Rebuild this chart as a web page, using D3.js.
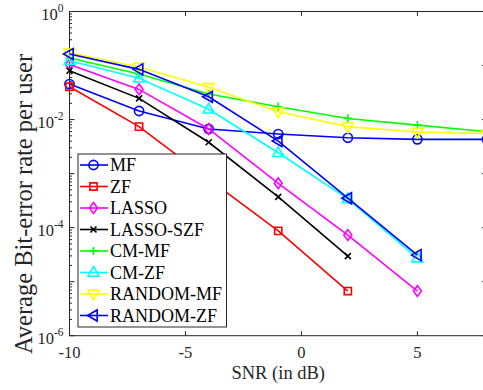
<!DOCTYPE html>
<html>
<head>
<meta charset="utf-8">
<script src="https://cdn.jsdelivr.net/npm/d3@7"></script>
<style>
  body { margin: 0; background: #fff; }
  svg { display: block; font-family: "Liberation Serif", "Times New Roman", serif; }
</style>
</head>
<body>
<div id="chart"></div>
<script>
// SNR points (dB)
const snr = [-10, -7, -4, -1, 2, 5, 8];

// bit-error rate per series, null where not simulated
const mf       = [0.0454, 0.0144, 0.0067, 0.0054, 0.0046, 0.0043, 0.0043];
const zf       = [0.0405, 0.0074, 0.00079, 0.000087, 0.0000067, null, null];
const lasso    = [0.105, 0.0362, 0.0067, 0.00066, 0.000073, 0.0000067, null];
const lassoSzf = [0.080, 0.0247, 0.0038, 0.00037, 0.0000297, null, null];
const cmMf     = [0.138, 0.0696, 0.0297, 0.0173, 0.0105, 0.0079, 0.0060];
const cmZf     = [0.123, 0.058, 0.0155, 0.00243, 0.00034, 0.0000272, null];
const randMf   = [0.173, 0.094, 0.0395, 0.0139, 0.0074, 0.0059, 0.0055];
const randZf   = [0.163, 0.085, 0.0264, 0.0040, 0.00035, 0.000031, null];

const names = ['MF', 'ZF', 'LASSO', 'LASSO-SZF', 'CM-MF', 'CM-ZF', 'RANDOM-MF', 'RANDOM-ZF'];
const colors = ['#0000ff', '#ff0000', '#ff00ff', '#000000', '#00ff00', '#00ffff', '#ffff00', '#0000ff'];
const markers = ['circle', 'square', 'diamond', 'cross', 'plus', 'triUp', 'triDown', 'triLeft'];
const seriesValues = [mf, zf, lasso, lassoSzf, cmMf, cmZf, randMf, randZf];

const xTicks = [-10, -5, 0, 5];
const yTicks = [-6, -4, -2, 0]; // exponents

const W = 483, H = 390;
const margin = { left: 69.5, top: 11.5, right: -4, bottom: 54.3 };
const width = W - margin.left - margin.right;
const height = H - margin.top - margin.bottom;

const svg = d3.select('#chart').append('svg')
  .attr('width', W).attr('height', H)
  .attr('viewBox', `0 0 ${W} ${H}`);

const g = svg.append('g').attr('transform', `translate(${margin.left},${margin.top})`);

const x = d3.scaleLinear().domain([-10, 8]).range([0, width]);
const y = d3.scaleLog().domain([1e-6, 1]).range([height, 0]);

// marker shapes
function markerPath(type, s) {
  switch (type) {
    case 'circle': return d3.symbol(d3.symbolCircle, Math.PI * s * s)();
    case 'square': return `M${-s},${-s}H${s}V${s}H${-s}Z`;
    case 'diamond': return `M0,${-s * 1.35}L${s},0L0,${s * 1.35}L${-s},0Z`;
    case 'cross': return `M${-s},${-s}L${s},${s}M${-s},${s}L${s},${-s}`;
    case 'plus': return `M${-s * 1.2},0H${s * 1.2}M0,${-s * 1.2}V${s * 1.2}`;
    case 'triUp': return `M0,${-s * 1.3}L${s * 1.2},${s * 0.8}L${-s * 1.2},${s * 0.8}Z`;
    case 'triDown': return `M0,${s * 1.3}L${s * 1.2},${-s * 0.8}L${-s * 1.2},${-s * 0.8}Z`;
    case 'triLeft': return `M${-s * 1.3},0L${s * 0.8},${-s * 1.2}L${s * 0.8},${s * 1.2}Z`;
  }
}
const markerSize = { circle: 4.6, square: 3.6, diamond: 4, cross: 3, plus: 3.4, triUp: 4.6, triDown: 4.6, triLeft: 4.6 };

// box
const axisColor = '#262626';
g.append('rect')
  .attr('x', 0).attr('y', 0).attr('width', width).attr('height', height)
  .attr('fill', 'none').attr('stroke', axisColor).attr('stroke-width', 1);

// x ticks bottom & top (inward)
xTicks.forEach(t => {
  g.append('line').attr('x1', x(t)).attr('x2', x(t)).attr('y1', height).attr('y2', height - 4.5)
    .attr('stroke', axisColor);
  g.append('line').attr('x1', x(t)).attr('x2', x(t)).attr('y1', 0).attr('y2', 4.5)
    .attr('stroke', axisColor);
  g.append('text').attr('x', x(t)).attr('y', height + 22.3)
    .attr('text-anchor', 'middle').attr('font-size', 16.5).attr('fill', axisColor)
    .text(t);
});

// y ticks: major + minor, left & right
for (let e = -6; e <= 0; e++) {
  for (let m = 1; m <= 9; m++) {
    if (e === 0 && m > 1) break;
    const v = m * Math.pow(10, e);
    const len = m === 1 ? 5 : 2.5;
    g.append('line').attr('x1', 0).attr('x2', len).attr('y1', y(v)).attr('y2', y(v))
      .attr('stroke', axisColor);
    g.append('line').attr('x1', width).attr('x2', width - len).attr('y1', y(v)).attr('y2', y(v))
      .attr('stroke', axisColor);
  }
}
yTicks.forEach(e => {
  const t = g.append('text').attr('x', -6).attr('y', y(Math.pow(10, e)) + 8.5)
    .attr('text-anchor', 'end').attr('font-size', 16.5).attr('fill', axisColor);
  t.append('tspan').text('10');
  t.append('tspan').attr('dy', -8).attr('font-size', 11.5).text(e === 0 ? '0' : '-' + (-e));
});

// axis labels
svg.append('text')
  .attr('x', margin.left + width / 2).attr('y', 379)
  .attr('text-anchor', 'middle').attr('font-size', 18.5).attr('fill', axisColor)
  .text('SNR (in dB)');
svg.append('text')
  .attr('transform', `translate(32,204) rotate(-90)`)
  .attr('text-anchor', 'middle').attr('font-size', 24.5).attr('fill', axisColor)
  .text('Average Bit-error rate per user');

// series
const line = d3.line()
  .defined(d => d.v != null)
  .x(d => x(d.x)).y(d => y(d.v));

const plot = g.append('g');
seriesValues.forEach((vals, i) => {
  const pts = snr.map((s, k) => ({ x: s, v: vals[k] })).filter(d => d.v != null);
  plot.append('path').datum(pts)
    .attr('d', line)
    .attr('fill', 'none').attr('stroke', colors[i]).attr('stroke-width', 1.6);
  plot.selectAll(null).data(pts).enter().append('path')
    .attr('transform', d => `translate(${x(d.x)},${y(d.v)})`)
    .attr('d', markerPath(markers[i], markerSize[markers[i]]))
    .attr('fill', 'none').attr('stroke', colors[i]).attr('stroke-width', 1.6);
});

// legend
const lg = svg.append('g').attr('transform', 'translate(78,154)');
lg.append('rect').attr('x', 0).attr('y', 0).attr('width', 148.5).attr('height', 173)
  .attr('fill', '#fff').attr('stroke', axisColor).attr('stroke-width', 1);
names.forEach((n, i) => {
  const cy = 11 + i * 21.5;
  lg.append('line').attr('x1', 2).attr('x2', 30).attr('y1', cy).attr('y2', cy)
    .attr('stroke', colors[i]).attr('stroke-width', 1.6);
  lg.append('path').attr('transform', `translate(15.5,${cy})`)
    .attr('d', markerPath(markers[i], markerSize[markers[i]]))
    .attr('fill', 'none').attr('stroke', colors[i]).attr('stroke-width', 1.6);
  lg.append('text').attr('x', 32).attr('y', cy + 6.3)
    .attr('font-size', 18).attr('fill', '#000').text(n);
});
</script>
</body>
</html>
